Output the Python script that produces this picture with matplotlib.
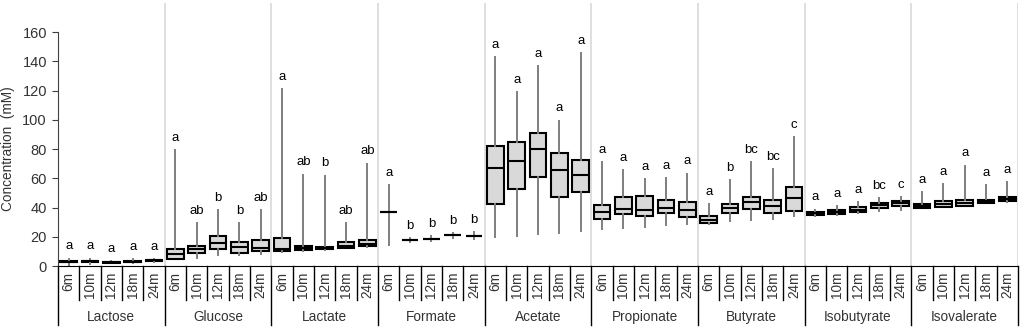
import numpy as np
import matplotlib.pyplot as plt
from matplotlib.lines import Line2D

plt.rcParams['font.family'] = ['Liberation Sans', 'DejaVu Sans']

groups = ['Lactose', 'Glucose', 'Lactate', 'Formate', 'Acetate',
          'Propionate', 'Butyrate', 'Isobutyrate', 'Isovalerate']
ages = ['6m', '10m', '12m', '18m', '24m']

# whisker low, Q1, median, Q3, whisker high (mM) for each compound, ages 6m..24m
lactose_lo = [1.0, 1.2, 2.0, 2.0, 3.0]
lactose_q1 = [2.6, 2.8, 2.3, 2.7, 3.5]
lactose_med = [3.0, 3.2, 2.5, 3.0, 3.8]
lactose_q3 = [3.3, 3.5, 2.7, 3.3, 4.0]
lactose_hi = [5.0, 5.1, 3.2, 4.8, 4.6]

glucose_lo = [4.5, 5.6, 7.2, 7.7, 8.5]
glucose_q1 = [4.9, 9.0, 11.5, 9.0, 10.1]
glucose_med = [8.3, 11.5, 15.9, 13.3, 12.6]
glucose_q3 = [11.8, 14.0, 20.2, 16.3, 17.7]
glucose_hi = [79.2, 29.5, 38.2, 29.5, 38.2]

lactate_lo = [9.5, 10.5, 11.0, 12.0, 13.0]
lactate_q1 = [10.1, 10.8, 11.3, 12.6, 13.6]
lactate_med = [11.8, 12.0, 12.0, 14.0, 15.0]
lactate_q3 = [19.3, 14.0, 13.1, 16.3, 17.7]
lactate_hi = [121.0, 62.6, 61.9, 29.5, 70.0]

formate_lo = [14.5, 16.3, 16.8, 19.0, 18.6]
formate_q1 = [37.3, 17.9, 18.6, 20.9, 20.2]
formate_med = [37.3, 17.9, 18.6, 20.9, 20.2]
formate_q3 = [37.3, 17.9, 18.6, 20.9, 20.2]
formate_hi = [55.3, 19.3, 20.4, 22.7, 23.1]

acetate_lo = [20.0, 20.4, 22.2, 22.7, 23.8]
acetate_q1 = [42.5, 52.8, 61.2, 47.5, 50.5]
acetate_med = [67.1, 71.7, 80.1, 65.5, 62.6]
acetate_q3 = [81.9, 85.1, 91.1, 77.4, 72.3]
acetate_hi = [142.8, 119.1, 136.6, 99.5, 145.8]

propionate_lo = [25.0, 25.9, 26.8, 28.2, 29.0]
propionate_q1 = [32.5, 35.7, 34.0, 36.4, 33.4]
propionate_med = [37.3, 39.3, 38.6, 39.8, 38.6]
propionate_q3 = [41.8, 47.0, 47.7, 45.3, 43.9]
propionate_hi = [71.0, 65.5, 59.6, 60.3, 63.2]

butyrate_lo = [29.0, 31.1, 31.8, 32.5, 34.0]
butyrate_q1 = [29.7, 36.1, 39.3, 36.1, 37.9]
butyrate_med = [31.8, 39.5, 43.6, 40.9, 46.2]
butyrate_q3 = [34.0, 42.7, 47.0, 45.5, 54.4]
butyrate_hi = [42.5, 58.7, 71.0, 66.4, 88.3]

isobutyrate_lo = [34.5, 35.0, 36.5, 37.5, 38.2]
isobutyrate_q1 = [34.7, 35.4, 37.1, 39.8, 41.4]
isobutyrate_med = [36.1, 37.0, 38.6, 41.6, 43.2]
isobutyrate_q3 = [37.3, 38.6, 40.5, 43.2, 44.8]
isobutyrate_hi = [38.6, 40.9, 43.6, 46.2, 47.0]

isovalerate_lo = [39.8, 40.3, 41.2, 42.8, 44.0]
isovalerate_q1 = [40.0, 40.5, 41.4, 43.0, 44.3]
isovalerate_med = [41.0, 42.5, 43.4, 44.2, 45.7]
isovalerate_q3 = [42.5, 44.8, 45.0, 45.5, 47.0]
isovalerate_hi = [50.7, 56.2, 68.7, 55.3, 57.6]

letters = [
    ['a', 'a', 'a', 'a', 'a'],
    ['a', 'ab', 'b', 'b', 'ab'],
    ['a', 'ab', 'b', 'ab', 'ab'],
    ['a', 'b', 'b', 'b', 'b'],
    ['a', 'a', 'a', 'a', 'a'],
    ['a', 'a', 'a', 'a', 'a'],
    ['a', 'b', 'bc', 'bc', 'c'],
    ['a', 'a', 'a', 'bc', 'c'],
    ['a', 'a', 'a', 'a', 'a'],
]

lo = lactose_lo + glucose_lo + lactate_lo + formate_lo + acetate_lo + propionate_lo + butyrate_lo + isobutyrate_lo + isovalerate_lo
q1 = lactose_q1 + glucose_q1 + lactate_q1 + formate_q1 + acetate_q1 + propionate_q1 + butyrate_q1 + isobutyrate_q1 + isovalerate_q1
med = lactose_med + glucose_med + lactate_med + formate_med + acetate_med + propionate_med + butyrate_med + isobutyrate_med + isovalerate_med
q3 = lactose_q3 + glucose_q3 + lactate_q3 + formate_q3 + acetate_q3 + propionate_q3 + butyrate_q3 + isobutyrate_q3 + isovalerate_q3
hi = lactose_hi + glucose_hi + lactate_hi + formate_hi + acetate_hi + propionate_hi + butyrate_hi + isobutyrate_hi + isovalerate_hi

stats = [dict(whislo=a, q1=b, med=c, q3=d, whishi=e, fliers=[])
         for a, b, c, d, e in zip(lo, q1, med, q3, hi)]
n = len(stats)
pos = np.arange(n)

fig = plt.figure(figsize=(10.21, 3.28), dpi=100)
ax = fig.add_axes([58 / 1021, 62 / 328, 960 / 1021, 263 / 328])

# light group separators inside the plot
for g in range(1, len(groups) + 1):
    ax.axvline(g * 5 - 0.5, color='#d9d9d9', lw=1.2, zorder=0)

ax.bxp(stats, positions=pos, widths=0.78, patch_artist=True, showcaps=False,
       showfliers=False,
       boxprops=dict(facecolor='#d9d9d9', edgecolor='black', lw=1.5),
       medianprops=dict(color='black', lw=1.5),
       whiskerprops=dict(color='#7f7f7f', lw=1.4))

# significance letters
flat_letters = [s for row in letters for s in row]
for x, top, s in zip(pos, hi, flat_letters):
    ax.annotate(s, (x, top), xytext=(0, 4.5), textcoords='offset points',
                ha='center', va='bottom', fontsize=9.5, color='black')

ax.set_xlim(-0.5, n - 0.5)
ax.set_ylim(0, 180)
ax.set_yticks(np.arange(0, 161, 20))
ax.spines['left'].set_bounds(0, 160)
for side in ['top', 'right']:
    ax.spines[side].set_visible(False)
ax.spines['left'].set_color('#404040')
ax.spines['bottom'].set_color('black')
ax.tick_params(axis='y', direction='out', length=4, color='#404040',
               labelsize=10.5, labelcolor='#333333', pad=4)
ax.set_xticks([])
ax.set_ylabel('Concentration  (mM)', fontsize=9.8, color='#333333')
ax.yaxis.set_label_coords(-0.045, 80 / 180)

# two-level category axis below the plot
tr = ax.get_xaxis_transform()
y_cat = -(300 - 266) / 263
y_grp = -(325 - 266) / 263
for k in range(n + 1):
    bottom = y_grp if k % 5 == 0 else y_cat
    ax.add_line(Line2D([k - 0.5, k - 0.5], [0, bottom], transform=tr,
                       color='black', lw=1, clip_on=False))
for x in pos:
    ax.text(x, -(272 - 266) / 263, ages[x % 5], transform=tr, rotation=90,
            ha='center', va='top', fontsize=9.8, color='#333333')
for g, name in enumerate(groups):
    ax.text(g * 5 + 2, -(317 - 266) / 263, name, transform=tr,
            ha='center', va='center', fontsize=9.8, color='#333333')

fig.savefig('out.png', dpi=100, facecolor='white')
